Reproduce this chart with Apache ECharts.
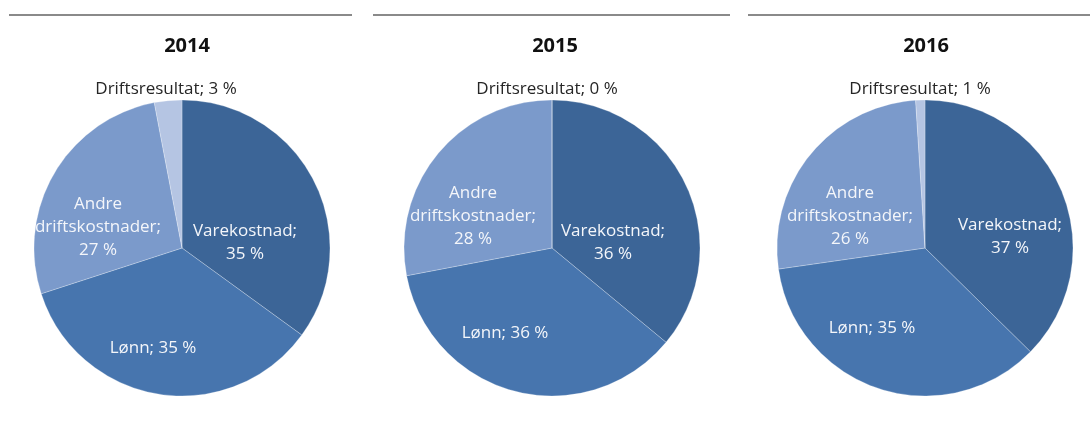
<!DOCTYPE html>
<html>
<head>
<meta charset="utf-8">
<script src="https://cdn.jsdelivr.net/npm/echarts@6/dist/echarts.min.js"></script>
<style>
html,body{margin:0;padding:0;background:#fff;}
#c{width:1090px;height:427px;}
</style>
</head>
<body>
<div id="c"></div>
<script>
// ---- data ----
const years = ['2014', '2015', '2016'];
const categories = ['Varekostnad', 'Lønn', 'Andre driftskostnader', 'Driftsresultat'];
const values2014 = [35, 35, 27, 3];
const values2015 = [36, 36, 28, 0];
const values2016 = [37, 35, 26, 1];
const allValues = [values2014, values2015, values2016];

// ---- style / layout ----
const colors = ['#3c6597', '#4775ae', '#7b9acb', '#b5c5e3'];
const centers = [[182, 248], [552, 248], [925, 248]];
const radius = 148;
const titleX = [182, 550, 921];
// label offsets from pie centre (px), per pie, per category
const labelOffsets = [
  [[63, -5], [-29, 100], [-84, -21], [-16, -159]],
  [[61, -5], [-47, 85], [-79, -32], [-5, -159]],
  [[85, -11], [-53, 80], [-75, -32], [-5, -159]]
];
const labelText = [
  (v) => 'Varekostnad;\n' + v + ' %',
  (v) => 'Lønn; ' + v + ' %',
  (v) => 'Andre\ndriftskostnader;\n' + v + ' %',
  (v) => 'Driftsresultat; ' + v + ' %'
];
const FONT = 'Open Sans';

const chart = echarts.init(document.getElementById('c'), null, {renderer: 'canvas'});

const series = years.map((y, s) => ({
  type: 'pie',
  center: centers[s],
  radius: radius,
  startAngle: 90,
  clockwise: true,
  silent: true,
  animation: false,
  minAngle: 0,
  itemStyle: {borderColor: 'rgba(255,255,255,0.5)', borderWidth: 0.5},
  labelLine: {show: false},
  label: {
    show: true,
    position: 'inside',
    fontFamily: FONT,
    fontSize: 17,
    lineHeight: 23,
    align: 'center',
    formatter: (p) => labelText[p.dataIndex](p.value)
  },
  labelLayout: (p) => {
    const o = labelOffsets[s][p.dataIndex];
    return {x: centers[s][0] + o[0], y: centers[s][1] + o[1], align: 'center', verticalAlign: 'middle'};
  },
  data: categories.map((c, i) => ({
    name: c,
    value: allValues[s][i],
    itemStyle: {color: colors[i]},
    label: {color: i === 3 ? '#262626' : '#f4f6fa'}
  }))
}));

const lineSegs = [[9, 352], [373, 730], [748, 1090]];

chart.setOption({
  backgroundColor: '#ffffff',
  title: years.map((y, s) => ({
    text: y,
    left: titleX[s],
    top: 31,
    textAlign: 'center',
    textStyle: {fontFamily: FONT, fontWeight: 'bold', fontSize: 20, color: '#111'}
  })),
  graphic: lineSegs.map(seg => ({
    type: 'line',
    shape: {x1: seg[0], y1: 15, x2: seg[1], y2: 15},
    style: {stroke: '#8a8a8a', lineWidth: 2}
  })),
  series: series
});
</script>
</body>
</html>
